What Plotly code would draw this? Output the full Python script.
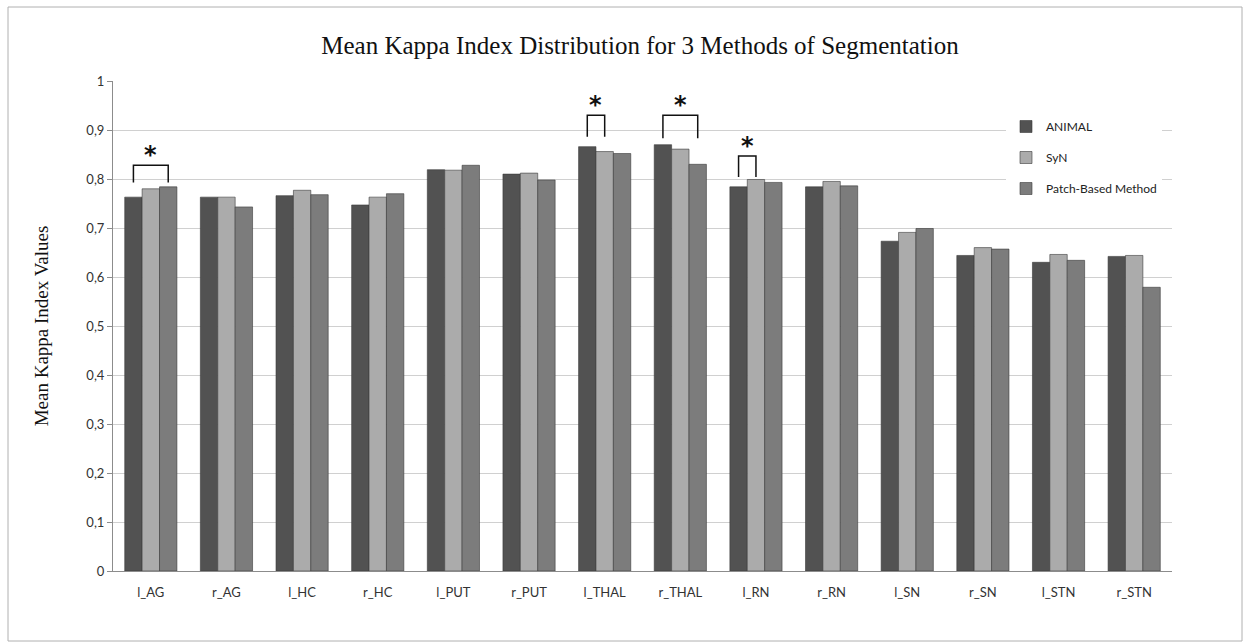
import plotly.graph_objects as go

categories = ["l_AG", "r_AG", "l_HC", "r_HC", "l_PUT", "r_PUT", "l_THAL",
              "r_THAL", "l_RN", "r_RN", "l_SN", "r_SN", "l_STN", "r_STN"]
animal = [0.763, 0.763, 0.766, 0.747, 0.819, 0.810, 0.866, 0.870, 0.784, 0.784, 0.673, 0.644, 0.630, 0.642]
syn    = [0.780, 0.763, 0.777, 0.763, 0.818, 0.812, 0.856, 0.861, 0.799, 0.795, 0.691, 0.660, 0.646, 0.644]
patch  = [0.784, 0.743, 0.768, 0.770, 0.828, 0.798, 0.852, 0.830, 0.793, 0.786, 0.699, 0.657, 0.634, 0.579]
series_names = ["ANIMAL", "SyN", "Patch-Based Method"]
series_colors = ["#525252", "#ababab", "#7c7c7c"]
y_ticks = [0, 0.1, 0.2, 0.3, 0.4, 0.5, 0.6, 0.7, 0.8, 0.9, 1]
y_ticktext = ["0", "0,1", "0,2", "0,3", "0,4", "0,5", "0,6", "0,7", "0,8", "0,9", "1"]

# significance brackets: (category index, first series, last series, top, leg bottom)
brackets = [(0, 0, 2, 0.828, 0.793), (6, 0, 1, 0.930, 0.886),
            (7, 0, 2, 0.930, 0.883), (8, 0, 1, 0.847, 0.804)]

bar_w = 0.23
offsets = [-bar_w, 0.0, bar_w]
xs = list(range(len(categories)))

fig = go.Figure()
for name, vals, col, off in zip(series_names, [animal, syn, patch], series_colors, offsets):
    fig.add_trace(go.Bar(
        x=[i + off for i in xs], y=vals, name=name, width=bar_w,
        marker=dict(color=col, line=dict(color="#3a3a3a", width=0.6)),
        legendgroup=name,
    ))

shapes = []
annotations = []
for ci, s0, s1, top, leg in brackets:
    xa = ci + offsets[s0]
    xb = ci + offsets[s1]
    fig.add_trace(go.Scatter(x=[xa, xa, xb, xb], y=[leg, top, top, leg], mode="lines",
                             line=dict(color="#111111", width=1.5), showlegend=False,
                             hoverinfo="skip"))
    annotations.append(dict(x=(xa + xb) / 2, y=top, xref="x", yref="y", text="<b>*</b>",
                            showarrow=False, yanchor="bottom", yshift=-6,
                            font=dict(size=24, color="#111111", family="DejaVu Sans")))

# outer chart frame
L, R, T, B = 113, 1172, 81, 571
def px_x(p):
    return (p - L) / (R - L)
def px_y(p):
    return (B - p) / (B - T)
shapes.append(dict(type="rect", xref="paper", yref="paper",
                   x0=px_x(8), x1=px_x(1242), y0=px_y(641), y1=px_y(7),
                   line=dict(color="#b0b0b0", width=1), fillcolor="rgba(0,0,0,0)", layer="below"))

fig.update_layout(
    width=1250, height=644,
    margin=dict(l=L, r=1250 - R, t=T, b=644 - B),
    paper_bgcolor="white", plot_bgcolor="white",
    title=dict(text="Mean Kappa Index Distribution for 3 Methods of Segmentation",
               x=(640) / 1250, xanchor="center", y=1 - 45 / 644, yanchor="middle",
               font=dict(family="Liberation Serif", size=25, color="#111111")),
    barmode="overlay",
    showlegend=True,
    legend=dict(x=px_x(1006), y=px_y(112), xanchor="left", yanchor="top",
                bgcolor="white", font=dict(family="Lato", size=12, color="#222222"),
                traceorder="grouped", tracegroupgap=12, itemwidth=30),
    shapes=shapes,
    annotations=annotations,
    xaxis=dict(range=[-0.5, len(categories) - 0.5], tickvals=xs, ticktext=categories,
               showgrid=False, zeroline=False, showline=True, linecolor="#8c8c8c", linewidth=1,
               ticks="outside", ticklen=9, tickcolor="rgba(0,0,0,0)",
               tickfont=dict(family="Lato", size=13, color="#333333")),
    yaxis=dict(range=[0, 1], tickvals=y_ticks, ticktext=y_ticktext,
               showgrid=True, gridcolor="#d0d0d0", gridwidth=1, zeroline=False,
               showline=True, linecolor="#8c8c8c", linewidth=1,
               ticks="outside", ticklen=5, tickcolor="#8c8c8c",
               tickfont=dict(family="Lato", size=13, color="#333333"),
               title=dict(text="Mean Kappa Index Values", standoff=32,
                          font=dict(family="Liberation Serif", size=19, color="#111111"))),
)

fig.write_html("out.html", config={"displayModeBar": False},
               post_script="document.body.style.margin='0';")
